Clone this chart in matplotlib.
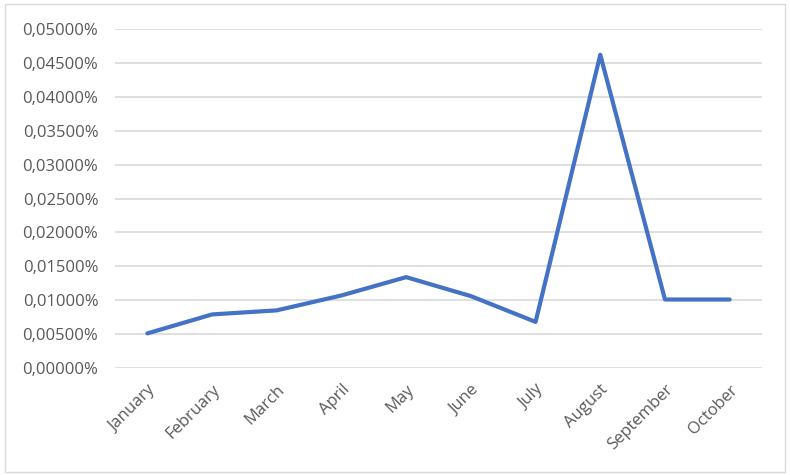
import matplotlib.pyplot as plt
from matplotlib.patches import Rectangle
from matplotlib.ticker import FuncFormatter, MultipleLocator

months = ['January', 'February', 'March', 'April', 'May', 'June',
          'July', 'August', 'September', 'October']
# values in percent
rate = [0.0051, 0.0079, 0.0085, 0.0107, 0.0134, 0.0106,
        0.0068, 0.0462, 0.0101, 0.0101]

plt.rcParams['font.family'] = ['Open Sans', 'DejaVu Sans']

fig = plt.figure(figsize=(7.9, 4.75), dpi=100)
ax = fig.add_axes([0.1456, 0.2253, 0.8190, 0.7136])

x = range(len(months))
ax.plot(x, rate, '-', color='#4472C4', linewidth=3, solid_capstyle='round', solid_joinstyle='round')

ax.set_xlim(-0.5, len(months) - 0.5)
ax.set_ylim(0, 0.05)
ax.yaxis.set_major_locator(MultipleLocator(0.005))
ax.yaxis.set_major_formatter(FuncFormatter(lambda v, p: f'{v:.5f}%'.replace('.', ',')))
ax.grid(True, axis='y', color='#D9D9D9', linewidth=1.2)
ax.set_axisbelow(True)

ax.set_xticks(list(x))
ax.set_xticklabels(months, rotation=45, ha='right', rotation_mode='anchor')
ax.tick_params(axis='both', length=0, labelsize=12, labelcolor='#595959')
ax.tick_params(axis='x', pad=10)
ax.tick_params(axis='y', pad=12)

for s in ax.spines.values():
    s.set_visible(False)

fig.patches.append(Rectangle((5 / 790, 3 / 475), 780 / 790, 468 / 475, transform=fig.transFigure,
                             fill=False, edgecolor='#D9D9D9', linewidth=1))

plt.savefig('out.png', dpi=100)
